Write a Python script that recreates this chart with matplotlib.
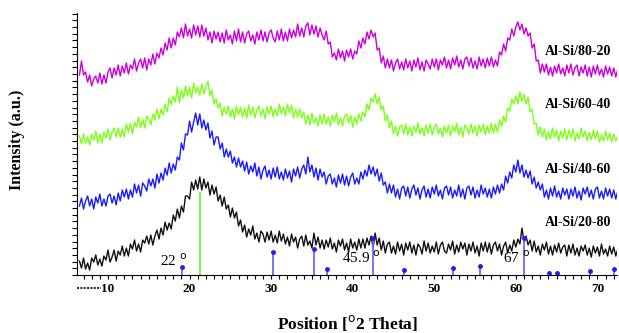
import numpy as np
import matplotlib
matplotlib.use("Agg")
import matplotlib.pyplot as plt

plt.rcParams['font.family'] = ['Liberation Serif', 'DejaVu Serif']

# 2-theta grid (degrees), 0.25 deg steps
two_theta = np.arange(6.5, 72.51, 0.25)

# intensities (arbitrary units, already offset per sample)
al_si_20_80 = [14, 7, 17, 6, 12, 5, 17, 13, 20, 10, 16, 9, 19, 15, 25, 13, 18, 25, 14, 24,
               20, 29, 19, 27, 19, 31, 26, 35, 24, 31, 23, 35, 32, 39, 31, 40, 30, 39, 45, 36,
               47, 40, 53, 45, 52, 46, 60, 54, 66, 57, 69, 63, 79, 79, 76, 93, 85, 95, 86, 98,
               85, 96, 87, 93, 80, 90, 81, 88, 74, 80, 69, 78, 66, 70, 58, 67, 57, 63, 49, 55,
               43, 50, 38, 46, 40, 49, 36, 42, 33, 44, 41, 33, 43, 35, 44, 33, 40, 32, 44, 34,
               41, 31, 38, 29, 41, 33, 38, 27, 36, 39, 29, 40, 30, 34, 27, 42, 30, 38, 27, 35,
               26, 35, 28, 37, 26, 32, 23, 35, 29, 36, 25, 32, 23, 36, 27, 33, 25, 36, 27, 36,
               27, 37, 30, 39, 27, 42, 30, 37, 25, 34, 22, 31, 33, 22, 29, 21, 33, 24, 31, 20,
               32, 25, 33, 22, 30, 20, 31, 28, 21, 34, 24, 32, 22, 29, 23, 33, 21, 30, 33, 24,
               22, 31, 25, 34, 21, 30, 23, 33, 26, 32, 20, 31, 24, 33, 22, 29, 19, 32, 24, 33,
               23, 32, 21, 30, 33, 24, 31, 20, 29, 33, 22, 30, 24, 35, 28, 36, 31, 47, 33, 39,
               30, 35, 24, 34, 23, 29, 20, 31, 25, 33, 21, 29, 20, 30, 23, 32, 22, 28, 30, 19,
               30, 22, 31, 20, 27, 19, 29, 24, 30, 20, 27, 18, 29, 22, 28, 19, 31, 21, 26, 19,
               29, 21, 28, 19, 26]
al_si_40_60 = [69, 77, 66, 74, 79, 69, 76, 66, 78, 72, 81, 69, 76, 69, 79, 81, 72, 79, 70, 82,
               74, 85, 78, 86, 76, 85, 78, 91, 82, 90, 79, 92, 89, 84, 96, 89, 96, 87, 101, 92,
               102, 95, 107, 100, 112, 102, 111, 105, 118, 115, 132, 125, 141, 140, 154, 143, 153, 162, 150, 161,
               147, 155, 145, 152, 137, 144, 130, 138, 138, 126, 132, 118, 126, 118, 124, 112, 118, 108, 117, 108,
               114, 104, 113, 101, 109, 103, 112, 99, 108, 96, 105, 109, 98, 105, 96, 107, 98, 108, 96, 103,
               95, 106, 97, 104, 93, 106, 99, 108, 97, 106, 110, 101, 118, 103, 110, 98, 107, 95, 106, 98,
               103, 91, 99, 101, 91, 97, 88, 100, 92, 101, 90, 99, 89, 98, 102, 91, 97, 91, 103, 96,
               105, 99, 110, 101, 108, 99, 106, 94, 102, 90, 93, 82, 91, 82, 90, 78, 86, 76, 87, 89,
               79, 88, 77, 86, 90, 80, 87, 76, 85, 89, 78, 86, 77, 88, 81, 90, 79, 85, 76, 87,
               89, 80, 88, 77, 85, 79, 90, 78, 86, 76, 87, 89, 80, 88, 77, 85, 78, 90, 81, 87,
               78, 86, 77, 88, 81, 90, 82, 91, 85, 99, 92, 103, 97, 110, 103, 115, 102, 110, 98, 105,
               97, 104, 91, 98, 87, 93, 85, 91, 78, 85, 76, 87, 79, 89, 78, 84, 76, 87, 80, 86,
               76, 86, 79, 88, 77, 84, 75, 87, 81, 88, 78, 85, 76, 86, 88, 77, 84, 76, 87, 79,
               86, 77, 85, 76, 84]
al_si_60_40 = [139, 131, 141, 132, 138, 130, 141, 135, 144, 132, 141, 132, 143, 137, 146, 135, 143, 147, 138, 147,
               138, 146, 138, 151, 143, 152, 141, 153, 148, 158, 147, 156, 147, 159, 156, 150, 161, 155, 166, 156,
               166, 160, 171, 163, 177, 170, 179, 173, 188, 172, 185, 177, 189, 179, 188, 177, 192, 182, 188, 180,
               191, 181, 188, 194, 179, 185, 171, 176, 167, 172, 159, 168, 161, 169, 158, 166, 156, 169, 160, 168,
               158, 167, 157, 170, 160, 168, 157, 165, 169, 159, 166, 156, 168, 161, 169, 158, 166, 159, 171, 161,
               168, 159, 171, 162, 170, 157, 166, 158, 166, 157, 163, 151, 160, 150, 162, 152, 157, 149, 160, 151,
               161, 151, 158, 149, 160, 153, 162, 150, 157, 149, 159, 161, 152, 160, 148, 158, 151, 161, 154, 163,
               158, 171, 165, 177, 173, 181, 171, 178, 165, 169, 154, 160, 147, 154, 141, 149, 139, 148, 150, 141,
               151, 140, 148, 139, 149, 143, 152, 141, 147, 139, 150, 142, 151, 140, 148, 151, 141, 147, 138, 149,
               142, 150, 139, 149, 143, 152, 140, 148, 138, 150, 147, 141, 151, 142, 149, 139, 150, 143, 151, 140,
               149, 142, 152, 142, 151, 143, 155, 149, 159, 153, 167, 164, 176, 171, 179, 171, 183, 174, 181, 171,
               178, 163, 166, 151, 152, 140, 148, 138, 146, 135, 143, 136, 147, 138, 145, 134, 144, 137, 146, 135,
               145, 137, 146, 134, 142, 136, 147, 138, 144, 134, 143, 135, 145, 136, 144, 133, 140, 134, 144, 135,
               142, 133, 141, 134, 140]
al_si_80_20 = [200, 214, 200, 203, 193, 200, 189, 196, 199, 192, 202, 191, 200, 192, 203, 207, 197, 207, 200, 210,
               199, 209, 202, 212, 201, 210, 206, 216, 204, 212, 216, 207, 217, 205, 216, 210, 221, 211, 222, 217,
               227, 220, 232, 225, 237, 227, 237, 230, 243, 238, 247, 237, 251, 239, 246, 237, 250, 240, 249, 238,
               250, 239, 247, 235, 243, 232, 244, 236, 243, 233, 242, 232, 245, 235, 240, 231, 244, 234, 246, 233,
               243, 232, 241, 244, 234, 240, 231, 243, 235, 245, 234, 243, 233, 242, 245, 237, 233, 244, 235, 246,
               234, 243, 234, 246, 237, 245, 238, 251, 239, 247, 238, 249, 252, 240, 250, 241, 249, 238, 247, 240,
               235, 244, 231, 233, 218, 222, 215, 226, 217, 224, 214, 225, 218, 226, 216, 224, 221, 234, 227, 237,
               231, 243, 236, 245, 238, 242, 225, 227, 212, 219, 207, 216, 207, 215, 204, 212, 216, 206, 213, 205,
               216, 207, 214, 204, 215, 208, 217, 205, 213, 204, 215, 211, 206, 216, 208, 216, 205, 215, 210, 218,
               207, 215, 206, 217, 210, 219, 208, 215, 206, 216, 218, 209, 217, 207, 214, 206, 218, 209, 216, 207,
               217, 209, 218, 208, 215, 209, 223, 220, 231, 224, 237, 235, 246, 239, 248, 253, 245, 251, 241, 247,
               239, 242, 227, 231, 214, 215, 202, 211, 203, 211, 200, 208, 199, 209, 202, 211, 201, 207, 199, 210,
               202, 211, 200, 207, 210, 199, 208, 202, 210, 199, 208, 198, 209, 201, 210, 200, 206, 198, 209, 201,
               208, 199, 207, 198, 206]

series = [al_si_20_80, al_si_40_60, al_si_60_40, al_si_80_20]
names = ['Al-Si/20-80', 'Al-Si/40-60', 'Al-Si/60-40', 'Al-Si/80-20']
colors = ['#111111', '#1a1aff', '#7cff1a', '#cc00dd']
label_y = [53, 106, 171, 223]

# reference pattern sticks
ref_pos = [19.12, 30.21, 35.28, 36.79, 42.43, 46.32, 52.33, 55.64, 61.04, 64.11, 65.09, 69.14, 72.09]
ref_height = [8, 23, 26.5, 6, 37, 5, 7, 9.5, 37.5, 2.5, 2.5, 4, 6]
green_pos = 21.33
green_height = 83

peak_labels = ['22 $^{\\rm o}$', '45.9 $^{\\rm o}$', '67 $^{\\rm o}$']
peak_label_x = [18.1, 41.0, 60.1]
peak_label_y = [14, 17, 17]

fig = plt.figure(figsize=(6.19, 3.33), dpi=100)
ax = fig.add_axes([0.1244, 0.174, 0.873, 0.787])

for vals, c in zip(series, colors):
    ax.plot(two_theta, vals, color=c, lw=1.0)

ax.vlines(ref_pos, 0, ref_height, color='#6a6aff', lw=1.3)
ax.plot(ref_pos, ref_height, 'o', color='#2020ee', ms=2.5, clip_on=False)
ax.vlines([green_pos], 0, [green_height], color='#66ff33', lw=1.3)

for name, y in zip(names, label_y):
    ax.text(71.7, y, name, ha='right', va='center', fontsize=10, fontweight='bold')

for t, x, y in zip(peak_labels, peak_label_x, peak_label_y):
    ax.text(x, y, t, ha='center', va='center', fontsize=11)

ax.set_xlim(6.2, 72.45)
ax.set_ylim(0, 262)
ax.spines['top'].set_visible(False)
ax.spines['right'].set_visible(False)
ax.set_xticks(np.arange(10, 71, 10))
ax.set_xticks(np.arange(7, 73, 1), minor=True)
ax.set_yticks(np.arange(0, 262, 6.7))
ax.set_yticklabels([])
ax.tick_params(axis='x', which='both', direction='out', length=3, width=0.8, labelsize=9.5, pad=3)
ax.tick_params(axis='y', direction='out', length=3.5, width=0.8)
for lab in ax.get_xticklabels():
    lab.set_fontweight('bold')

# small dotted stroke left of the "10" label, as in the original
ax.plot([6.2, 9.2], [-13, -13], color='#333333', lw=1.5, ls=(0, (1, 0.6)), clip_on=False)

ax.set_xlabel('Position [$^{\\rm o}$2 Theta]', fontsize=12.5, fontweight='bold', labelpad=13)
fig.text(0.028, 0.58, 'Intensity (a.u.)', rotation=90, ha='center', va='center',
         fontsize=11.5, fontweight='bold')

fig.savefig('out.png', dpi=100)
